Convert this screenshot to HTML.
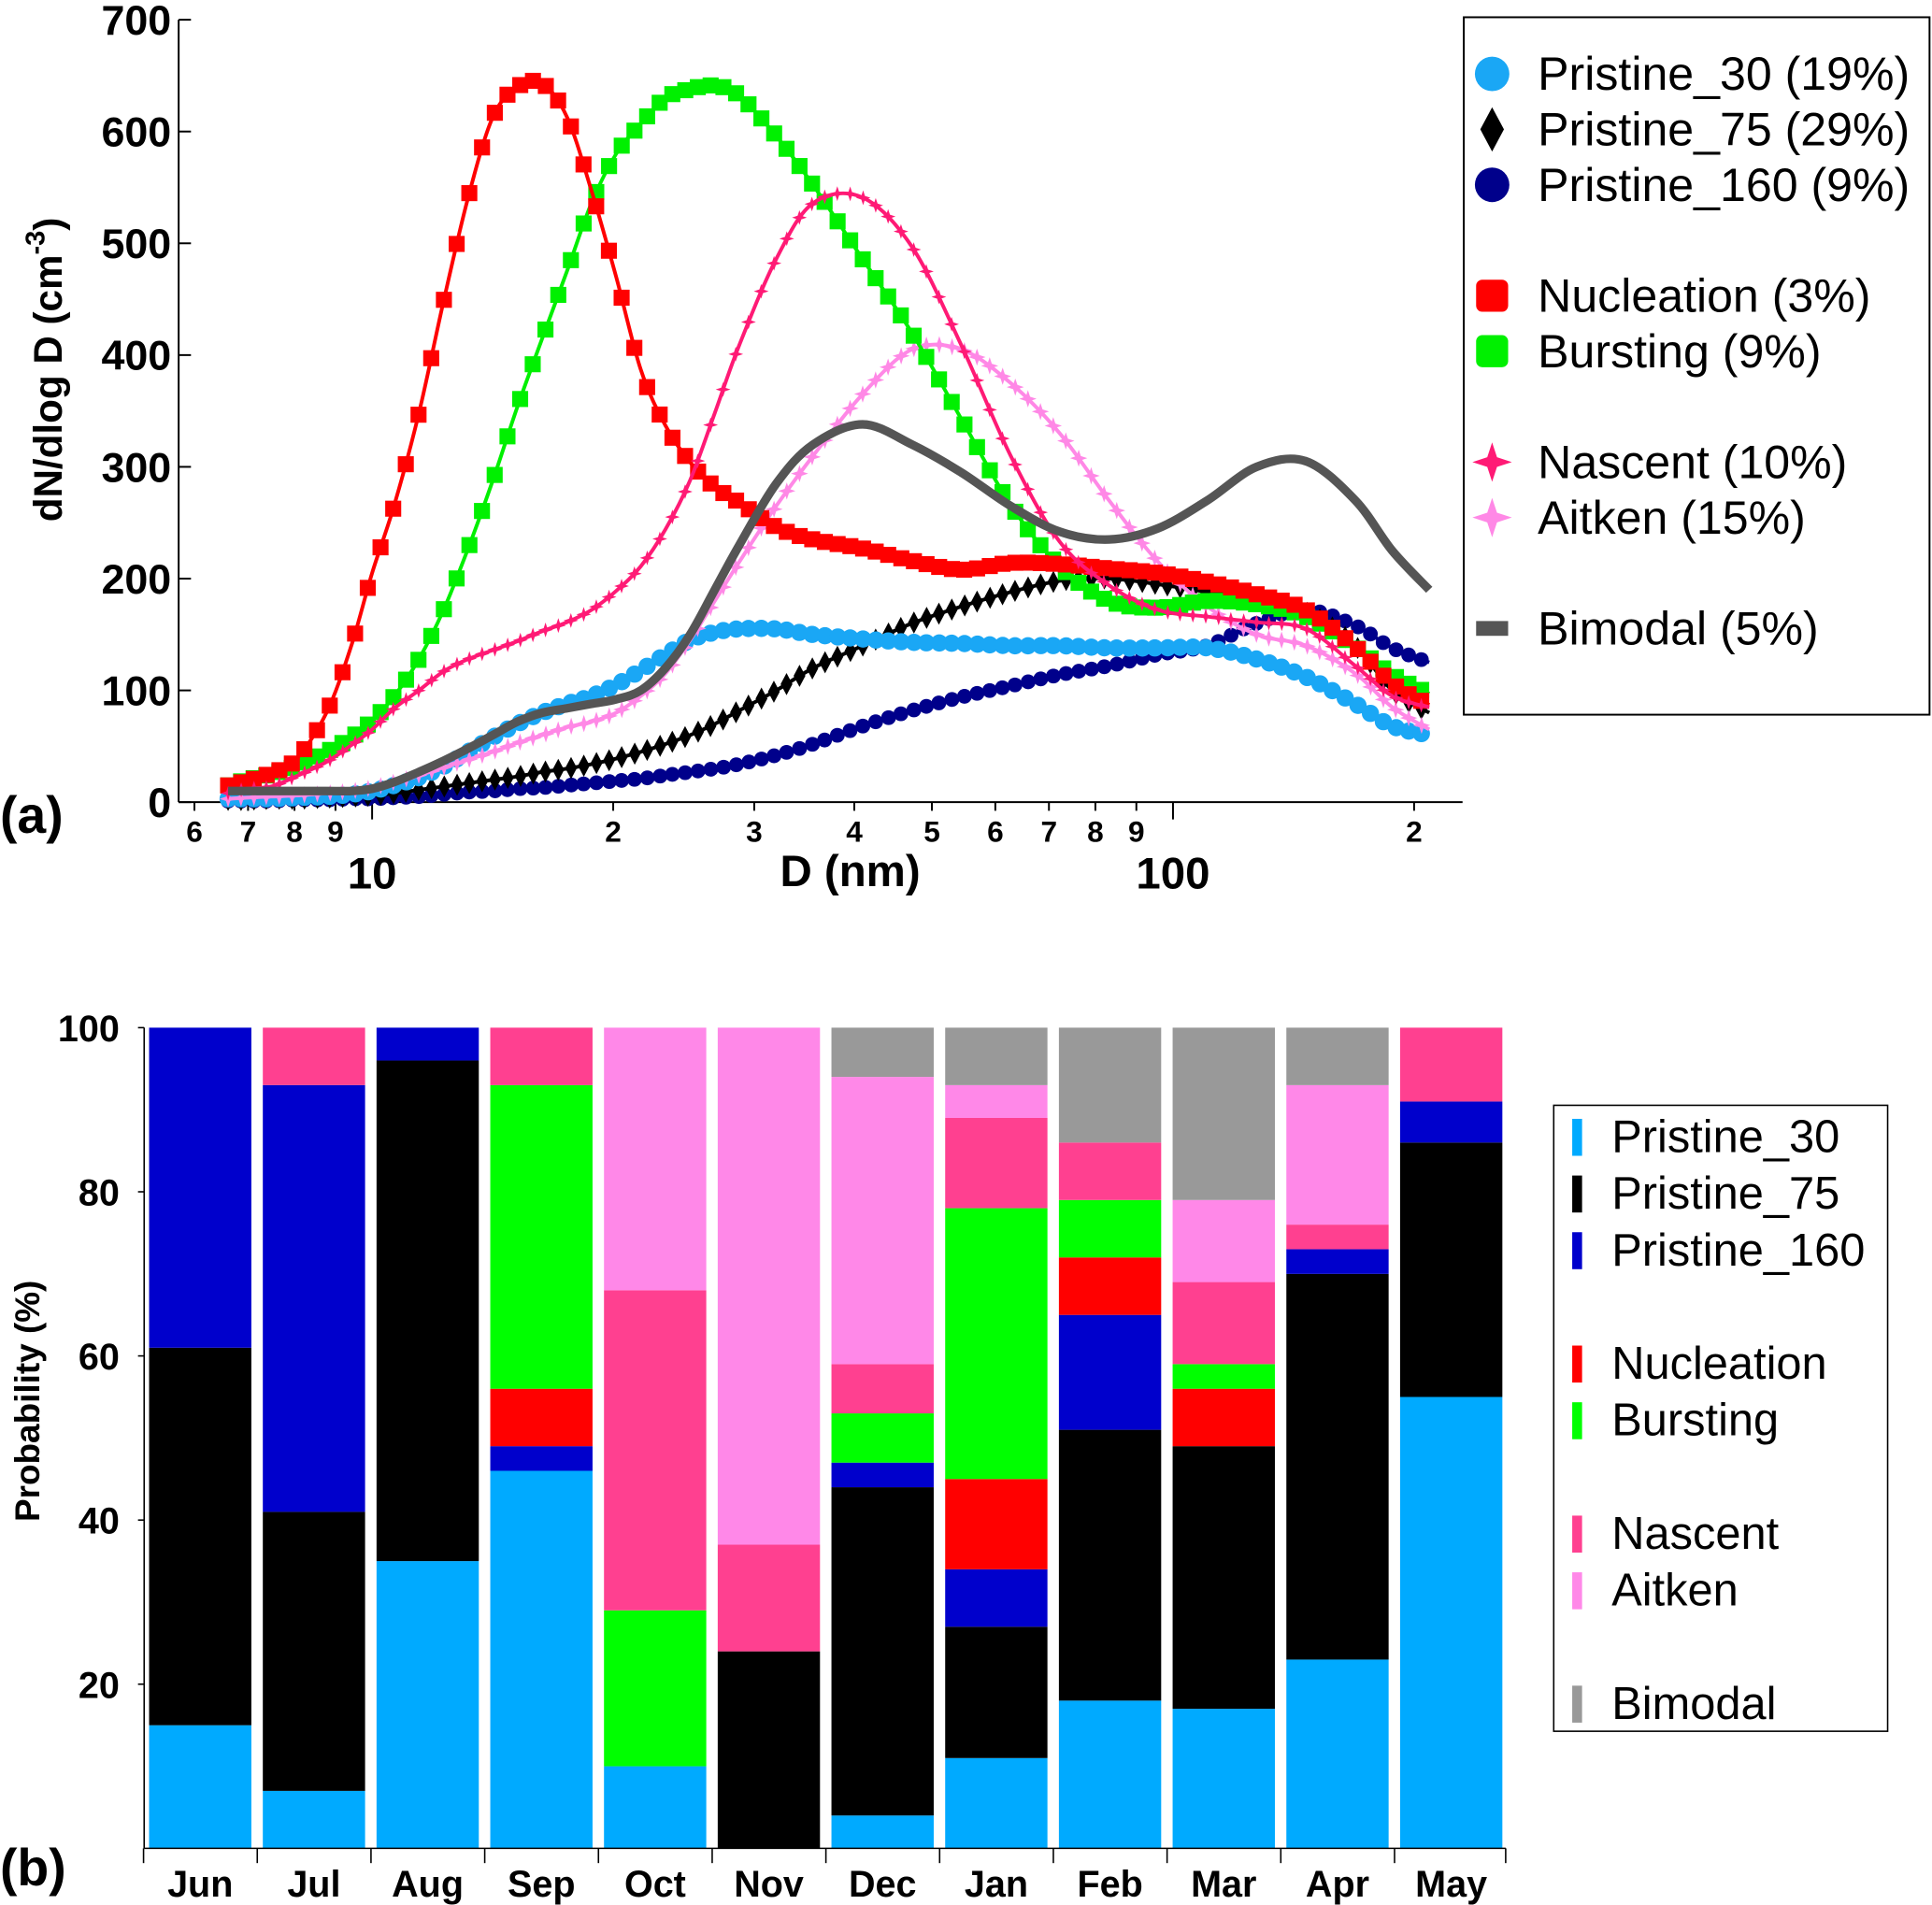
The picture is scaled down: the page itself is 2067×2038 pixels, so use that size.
<!DOCTYPE html>
<html><head><meta charset="utf-8"><style>
html,body{margin:0;padding:0;background:#fff;}
svg{display:block;font-family:"Liberation Sans",sans-serif;}
</style></head><body>
<svg id="fig" width="2067" height="2038" viewBox="0 0 1568 1546" xmlns="http://www.w3.org/2000/svg">
<g id="panelA"></g>
<g id="panelB"></g>
</svg>
<script>
// ---------- Panel (a) data ----------
const diam = [6.61,6.97,7.48,8.03,8.77,9.42,10,10.66,11.44,12.28,13.18,14.15,15.19,16.31,17.51,18.79,20.17,21.65,23.24,24.95,26.78,28.74,31.96,35.54,40.96,47.2,54.4,62.7,72.2,83.2,95.8,110.4,127.2,146.6,168.9,187.8,208.9];
const pristine30 = [3,3,3,4,5,7,10,15,22,32,45,58,70,80,88,95,105,118,132,145,152,155,155,150,146,143,142,140,140,138,138,138,128,112,88,68,60];
const pristine75 = [2,2,3,3,4,5,6,8,11,14,17,20,23,27,30,34,39,45,52,60,70,82,100,120,140,160,175,188,198,200,195,188,180,170,140,100,80];
const pristine160 = [1,1,1,2,2,3,3,4,5,7,9,10,12,13,15,17,19,21,24,27,30,34,42,52,68,82,94,104,114,122,132,140,160,172,158,138,125];
const nucleation = [15,19,26,38,80,140,205,266,348,448,541,613,640,643,613,547,470,387,337,304,282,268,246,235,227,216,208,214,213,209,205,197,186,172,139,106,87];
const bursting = [15,20,25,32,45,58,73,95,128,172,227,288,354,415,475,536,580,607,630,638,641,632,596,552,486,420,343,266,211,180,174,180,177,166,139,114,97];
const nascent = [8,12,14,23,36,51,65,84,100,117,128,136,144,153,161,172,189,211,244,288,348,409,486,536,541,497,409,310,233,194,172,166,161,155,122,95,85];
const aitken = [3,4,5,6,8,10,13,18,24,31,38,45,53,60,67,72,80,95,115,145,180,215,265,310,365,405,405,375,330,270,215,175,150,140,115,85,65];
const bimodal = [10,10,10,10,10,10,12,18,27,37,48,60,72,80,84,88,92,100,120,150,190,230,285,320,338,320,295,265,242,235,245,270,300,305,270,225,190];
const yTicksA = [0,100,200,300,400,500,600,700];
const xMinorLabels = [6,7,8,9,20,30,40,50,60,70,80,90,200];
const xMajorLabels = [10,100];

// ---------- Panel (b) data ----------
const months = ["Jun","Jul","Aug","Sep","Oct","Nov","Dec","Jan","Feb","Mar","Apr","May"];
const bP30  = [15,7,35,46,10,0,4,11,18,17,23,55];
const bP75  = [46,34,61,0,0,24,40,16,33,32,47,31];
const bP160 = [39,52,4,3,0,0,3,7,14,0,3,5];
const bNuc  = [0,0,0,7,0,0,0,11,7,7,0,0];
const bBur  = [0,0,0,37,19,0,6,33,7,3,0,0];
const bNas  = [0,7,0,7,39,13,6,11,7,10,3,9];
const bAit  = [0,0,0,0,32,63,35,4,0,10,17,0];
const bBim  = [0,0,0,0,0,0,6,7,14,21,7,0];
const yTicksB = [20,40,60,80,100];

const NS="http://www.w3.org/2000/svg";
function mk(tag,attrs,parent){const e=document.createElementNS(NS,tag);for(const k in attrs)e.setAttribute(k,attrs[k]);if(parent)parent.appendChild(e);return e;}
function txt(str,attrs,parent){const e=mk('text',attrs,parent);e.textContent=str;return e;}

// ---------- Panel A ----------
const A=document.getElementById('panelA');
const ax0=145, axRight=1187, y0=651, pxPerUnit=0.9071;
const xA=d=>302+650*Math.log10(d/10);
const yA=v=>y0-v*pxPerUnit;

const yAxisA=mk('line',{x1:ax0,y1:yA(700),x2:ax0,y2:y0,stroke:'#000','stroke-width':1.5},A);


const xAxisA=mk('line',{x1:ax0,y1:y0,x2:axRight,y2:y0,stroke:'#000','stroke-width':1.5},A);


yTicksA.forEach(v=>{
  mk('line',{x1:ax0,y1:yA(v),x2:ax0+10,y2:yA(v),stroke:'#000','stroke-width':1.5},A);
  const t=txt(String(v),{x:ax0-6,y:yA(v)+12,'text-anchor':'end','font-size':34,'font-weight':'bold'},A);
  
  
});
xMinorLabels.forEach(d=>{
  mk('line',{x1:xA(d),y1:y0,x2:xA(d),y2:y0+7,stroke:'#000','stroke-width':1.5},A);
  const lab=String(d>=100?d/100:(d>=10?d/10:d));
  const t=txt(lab,{x:xA(d),y:y0+32,'text-anchor':'middle','font-size':24,'font-weight':'bold'},A);
  
  
});
xMajorLabels.forEach(d=>{
  mk('line',{x1:xA(d),y1:y0,x2:xA(d),y2:y0+14,stroke:'#000','stroke-width':1.5},A);
  const t=txt(String(d),{x:xA(d),y:y0+70,'text-anchor':'middle','font-size':36,'font-weight':'bold'},A);
  
  
});
const xtA=txt('D (nm)',{x:690,y:y0+68,'text-anchor':'middle','font-size':36,'font-weight':'bold'},A);


const ytA=mk('text',{x:0,y:0,transform:'translate(50,300) rotate(-90)','text-anchor':'middle','font-size':32,'font-weight':'bold'},A);
ytA.innerHTML='dN/dlog D (cm<tspan dy="-14" font-size="22">-3</tspan><tspan dy="14">)</tspan>';


const la=txt('(a)',{x:0,y:676,'font-size':42,'font-weight':'bold'},A);



function smoothPath(pts){
  let d=`M${pts[0][0]},${pts[0][1]}`;
  for(let i=0;i<pts.length-1;i++){
    const p0=pts[Math.max(0,i-1)],p1=pts[i],p2=pts[i+1],p3=pts[Math.min(pts.length-1,i+2)];
    const c1=[p1[0]+(p2[0]-p0[0])/6,p1[1]+(p2[1]-p0[1])/6];
    const c2=[p2[0]-(p3[0]-p1[0])/6,p2[1]-(p3[1]-p1[1])/6];
    d+=` C${c1[0]},${c1[1]} ${c2[0]},${c2[1]} ${p2[0]},${p2[1]}`;
  }
  return d;
}
function marker(g,shape,x,y,color,size){
  let e;
  if(shape==='circle'){e=mk('circle',{cx:x,cy:y,r:size,fill:color},g);}
  else if(shape==='square'){e=mk('rect',{x:x-size,y:y-size,width:2*size,height:2*size,fill:color},g);}
  else if(shape==='diamond'){e=mk('polygon',{points:`${x},${y-size*1.5} ${x+size*0.8},${y} ${x},${y+size*1.5} ${x-size*0.8},${y}`,fill:color},g);}
  else if(shape==='star'){let p=[];for(let k=0;k<8;k++){const r=k%2?size*0.35:size;const a=k*Math.PI/4-Math.PI/2;p.push(`${x+r*Math.cos(a)},${y+r*Math.sin(a)}`);}e=mk('polygon',{points:p.join(' '),fill:color},g);}
  return e;
}
const seriesA=[
  {name:'pristine-160',vals:pristine160,color:'#00008b',shape:'circle',size:6,w:3},
  {name:'pristine-75',vals:pristine75,color:'#000',shape:'diamond',size:6,w:3},
  {name:'pristine-30',vals:pristine30,color:'#1aa7f5',shape:'circle',size:7,w:3},
  {name:'aitken',vals:aitken,color:'#ff88e6',shape:'star',size:7,w:3},
  {name:'bursting',vals:bursting,color:'#00f000',shape:'square',size:6.5,w:3},
  {name:'nucleation',vals:nucleation,color:'#ff0000',shape:'square',size:6.5,w:3},
  {name:'nascent',vals:nascent,color:'#ff1a75',shape:'star',size:6,w:3},
  {name:'bimodal',vals:bimodal,color:'#555555',shape:null,size:0,w:7}
];
seriesA.forEach(s=>{
  const g=mk('g',{},A);
  
  
  const pts=diam.map((d,i)=>[xA(d),yA(s.vals[i])]);
  const p=mk('path',{d:smoothPath(pts),fill:'none',stroke:s.color,'stroke-width':s.w},g);
  
  
  if(s.shape){
    const L=p.getTotalLength();
    let nextX=pts[0][0];
    for(let l=0;l<=L;l+=0.5){const q=p.getPointAtLength(l);
      if(q.x>=nextX){const m=marker(g,s.shape,q.x,q.y,s.color,s.size);
        
        
        nextX+=10.3;}}
  }
});
// legend a
const LA=mk('g',{},A);


mk('rect',{x:1188,y:14,width:378,height:566,fill:'#fff',stroke:'#000','stroke-width':1.5},LA);
const legA=[['Pristine_30 (19%)','#1aa7f5','circle',60],['Pristine_75 (29%)','#000','diamond',105],['Pristine_160 (9%)','#00008b','circle',150],['Nucleation (3%)','#ff0000','square',240],['Bursting (9%)','#00f000','square',285],['Nascent (10%)','#ff1a75','star',375],['Aitken (15%)','#ff88e6','star',420],['Bimodal (5%)','#555555','bar',510]];
legA.forEach(e=>{
  const g=mk('g',{},LA);
  
  
  if(e[2]==='bar')mk('rect',{x:1198,y:e[3]-6,width:26,height:12,fill:e[1]},g);
  else if(e[2]==='square')mk('rect',{x:1198,y:e[3]-13,width:26,height:26,rx:5,fill:e[1]},g);
  else if(e[2]==='diamond')marker(g,'diamond',1211,e[3],e[1],12);
  else if(e[2]==='star')marker(g,'star',1211,e[3],e[1],16);
  else mk('circle',{cx:1211,cy:e[3],r:14,fill:e[1]},g);
  txt(e[0],{x:1248,y:e[3]+13,'font-size':38},g);
});

// ---------- Panel B ----------
const B=document.getElementById('panelB');
const bx0=117, by0=1500, bpx=6.66, barLeft=121, barStep=92.3, barW=83;
const yB=v=>by0-v*bpx;
const layers=[[bP30,'#00aaff','pristine-30'],[bP75,'#000000','pristine-75'],[bP160,'#0000cc','pristine-160'],[bNuc,'#ff0000','nucleation'],[bBur,'#00ff00','bursting'],[bNas,'#ff4090','nascent'],[bAit,'#ff88e8','aitken'],[bBim,'#999999','bimodal']];
months.forEach((m,i)=>{
  const g=mk('g',{},B);
  
  
  let cum=0;const x=barLeft+i*barStep;
  layers.forEach(L=>{
    const v=L[0][i];
    if(v>0){const r=mk('rect',{x:x,y:yB(cum+v),width:barW,height:yB(cum)-yB(cum+v),fill:L[1]},g);
      
      }
    cum+=v;
  });
  const t=txt(m,{x:x+barW/2,y:1539,'text-anchor':'middle','font-size':30,'font-weight':'bold'},B);
  
  
  mk('line',{x1:x-4.5,y1:1500,x2:x-4.5,y2:1512,stroke:'#000','stroke-width':1.2},B);
});
mk('line',{x1:1222,y1:1500,x2:1222,y2:1512,stroke:'#000','stroke-width':1.2},B);
const yAxisB=mk('line',{x1:bx0,y1:yB(100),x2:bx0,y2:1500,stroke:'#000','stroke-width':1.2},B);


const xAxisB=mk('line',{x1:bx0,y1:1500,x2:1222,y2:1500,stroke:'#000','stroke-width':1.2},B);


yTicksB.forEach(v=>{
  mk('line',{x1:bx0-5,y1:yB(v),x2:bx0,y2:yB(v),stroke:'#000','stroke-width':1.2},B);
  const t=txt(String(v),{x:bx0-20,y:yB(v)+11,'text-anchor':'end','font-size':30,'font-weight':'bold'},B);
  
  
});
const ytB=txt('Probability (%)',{x:0,y:0,transform:'translate(32,1137) rotate(-90)','text-anchor':'middle','font-size':28,'font-weight':'bold'},B);


const lb=txt('(b)',{x:0,y:1530,'font-size':42,'font-weight':'bold'},B);


const LB=mk('g',{},B);


mk('rect',{x:1261,y:897,width:271,height:508,fill:'#fff',stroke:'#000','stroke-width':1.2},LB);
const legB=[['Pristine_30','#00aaff',922],['Pristine_75','#000',968],['Pristine_160','#0000cc',1014],['Nucleation','#ff0000',1106],['Bursting','#00ff00',1152],['Nascent','#ff4090',1244],['Aitken','#ff88e8',1290],['Bimodal','#999999',1382]];
legB.forEach(e=>{
  const g=mk('g',{},LB);
  
  
  mk('rect',{x:1276,y:e[2]-14,width:8,height:30,fill:e[1]},g);
  txt(e[0],{x:1308,y:e[2]+13,'font-size':37},g);
});
</script>
</body></html>
